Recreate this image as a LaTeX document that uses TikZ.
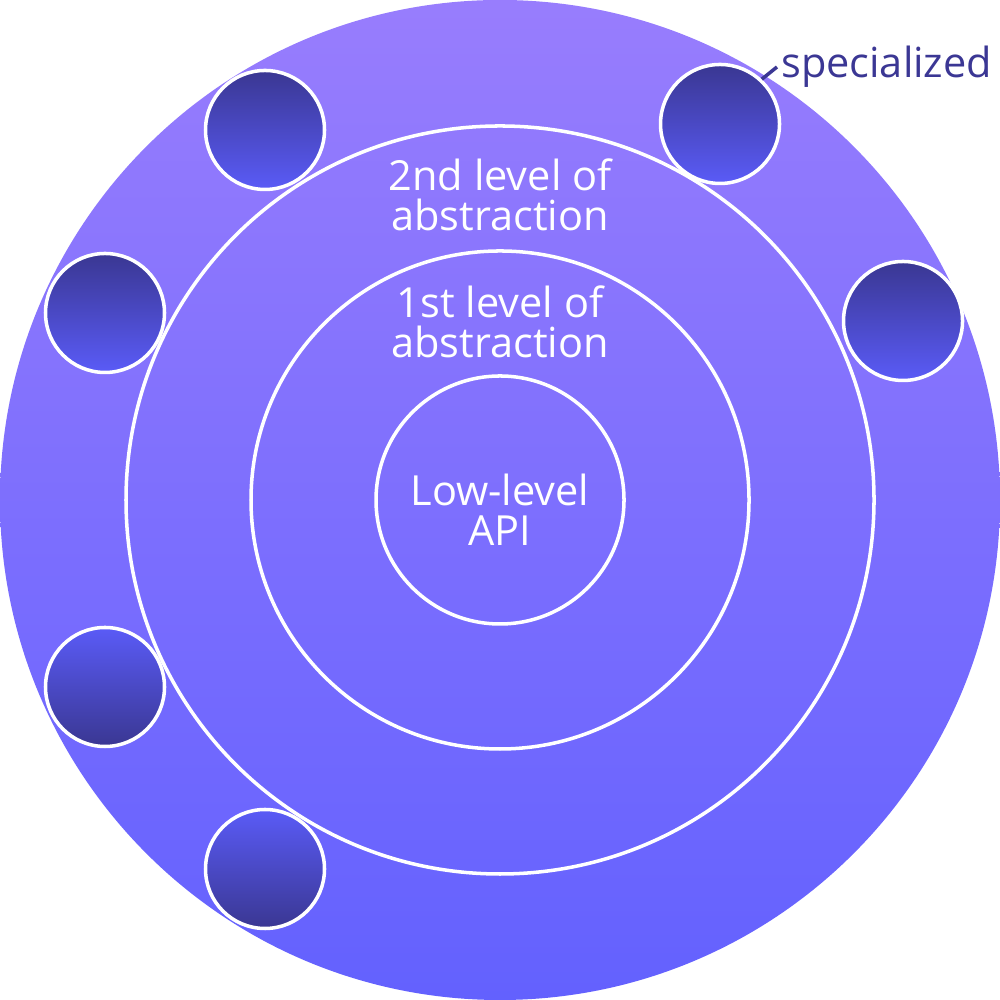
\documentclass[tikz,border=0pt]{standalone}
\usepackage{fontspec}
\setmainfont{Open Sans}
\usetikzlibrary{positioning}
\definecolor{disctop}{HTML}{987DFD}
\definecolor{discbot}{HTML}{6361FE}
\definecolor{dotdark}{HTML}{3A3792}
\definecolor{dotlight}{HTML}{5A5BF7}
\definecolor{ink}{HTML}{3B3794}
\newcommand{\LBLFONT}{\fontsize{11.8}{11.3}\selectfont}

\begin{document}
\begin{tikzpicture}[
    ring/.style={draw=white,line width=1pt},
    lbl/.style={text=white,align=center,inner sep=0pt,font=\LBLFONT},
    dotup/.style={circle,draw=white,line width=1pt,minimum size=1.19cm,
                  top color=dotdark,bottom color=dotlight},
    dotdown/.style={circle,draw=white,line width=1pt,minimum size=1.19cm,
                  top color=dotlight,bottom color=dotdark}]
    \useasboundingbox (0,0) rectangle (10,10);
    \coordinate (o) at (5,5);

    % disc and rings
    \shade[top color=disctop,bottom color=discbot] (o) circle (5);
    \draw[ring] (o) circle (3.74);
    \draw[ring] (o) circle (2.49);
    \draw[ring] (o) circle (1.24);

    \node[lbl] (core) at (5,4.90) {Low-level\\API};
    \node[lbl] (first) at (5,6.78) {1st level of\\abstraction};
    \node[lbl] (second) at (5,8.05) {2nd level of\\abstraction};

    % specialized modules
    \foreach \n/\x/\y in {s1/2.65/8.70, s2/7.20/8.76, s3/1.05/6.87, s4/9.03/6.79} {
        \node[dotup] (\n) at (\x,\y) {};
    }
    \foreach \n/\x/\y in {s5/1.05/3.13, s6/2.65/1.31} {
        \node[dotdown] (\n) at (\x,\y) {};
    }

    \node[text=ink,anchor=west,inner sep=1pt,font=\LBLFONT] (spec) at (7.77,9.33) {specialized};
    \draw[ink,line width=1pt] (s2.47) -- (spec.west);
\end{tikzpicture}
\end{document}
